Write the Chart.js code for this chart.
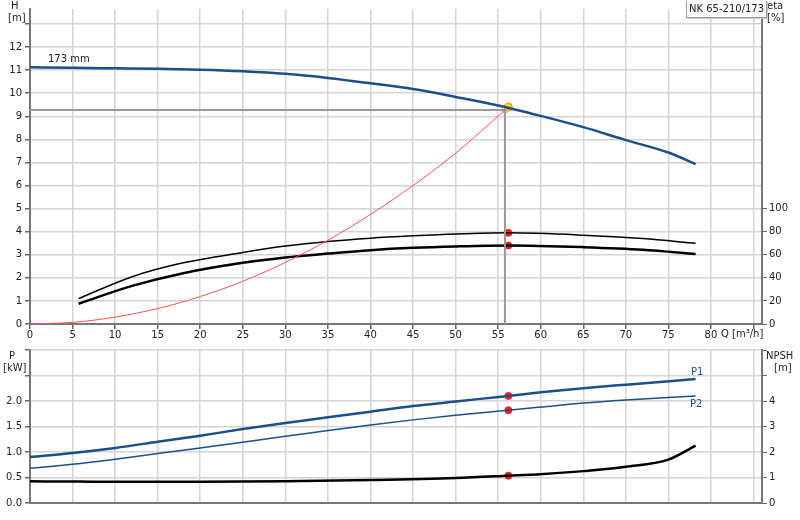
<!DOCTYPE html>
<html><head><meta charset="utf-8">
<script src="https://cdn.jsdelivr.net/npm/chart.js@4"></script>
<style>
body{margin:0;background:#fff;font-family:"DejaVu Sans",sans-serif;}
#wrap{position:relative;width:800px;height:520px;}
canvas{position:absolute;left:0;}
.t{position:absolute;font-size:10px;color:#222;line-height:12px;white-space:nowrap;}
</style></head><body>
<div id="wrap">
<canvas id="top" width="800" height="340" style="top:0"></canvas>
<canvas id="bot" width="800" height="180" style="top:340px"></canvas>
<div class="t" style="left:11px;top:0">H</div>
<div class="t" style="left:8px;top:12px">[m]</div>
<div class="t" style="left:767px;top:0">eta</div>
<div class="t" style="left:767px;top:12px">[%]</div>
<div class="t" style="left:48px;top:53px">173 mm</div>
<div class="t" style="left:686px;top:1px;border:1px solid #999;border-top:none;padding:2px 2px;background:#fff;box-shadow:1px 1px 0 #ccc">NK 65-210/173</div>
<div class="t" style="left:721px;top:328px">Q [m³/h]</div>
<div class="t" style="left:9px;top:350px">P</div>
<div class="t" style="left:3px;top:362px">[kW]</div>
<div class="t" style="left:766px;top:350px">NPSH</div>
<div class="t" style="left:774px;top:362px">[m]</div>
<div class="t" style="left:691px;top:366px;color:#1a4f8a">P1</div>
<div class="t" style="left:690px;top:398px;color:#1a4f8a">P2</div>
</div>
<script>
const qH=[0,5,10,15,20,25,30,35,40,45,50,55,60,65,70,75,78.2];
const H=[11.13,11.1,11.08,11.06,11.02,10.95,10.84,10.66,10.43,10.18,9.84,9.47,9.02,8.53,7.97,7.43,6.93];
const qEta=[5.7,12,18,25,30,35,40,45,50,56.2,65,72,78.2];
const eta1=[22,41,53,62,67.6,71.6,74.4,76.4,78,79,77,74,70];
const eta2=[17.6,33,44,53,57.6,61,64,66,67.2,68,66.6,64.4,60.6];
const qSys=[0,5,10,15,20,25,30,35,40,45,50,55.8];
const Hsys=[0,0.07,0.3,0.67,1.19,1.85,2.67,3.63,4.75,6.0,7.4,9.27];
const qP=[0,5,10,15,20,25,30,35,40,45,50,56.2,60,65,70,78.2];
const P1=[0.9,0.98,1.08,1.2,1.32,1.45,1.57,1.68,1.79,1.9,1.99,2.1,2.17,2.25,2.32,2.43];
const P2=[0.68,0.76,0.86,0.97,1.08,1.19,1.31,1.42,1.53,1.63,1.72,1.82,1.88,1.96,2.02,2.1];
const qN=[0,5.7,10,20,30,40,50,56.2,60,65,70,75,78.2];
const NPSH=[0.85,0.84,0.83,0.83,0.85,0.9,0.98,1.07,1.13,1.25,1.42,1.7,2.25];
const duty={q:56.2,H:9.4,eta1:79,eta2:68,P1:2.1,P2:1.82,N:1.07,qs:55.8,Hs:9.27};

const xy=(xs,ys)=>xs.map((x,i)=>({x,y:ys[i]}));
const F={family:'DejaVu Sans',size:10};
const grid={color:'#d4d4d4',lineWidth:1.5,tickLength:5,tickColor:'#666'};
const border={color:'#777',width:2};
const line=(data,color,w,axis)=>({data,borderColor:color,borderWidth:w,pointRadius:0,tension:0.4,cubicInterpolationMode:'monotone',yAxisID:axis,fill:false});
const pt=(x,y,axis,bg,bc,r)=>({data:[{x,y}],showLine:false,pointRadius:r,pointBackgroundColor:bg,pointBorderColor:bc,pointBorderWidth:1,yAxisID:axis});
Chart.defaults.animation=false;

new Chart(document.getElementById('top'),{type:'scatter',
data:{datasets:[
 {data:[{x:0,y:duty.Hs},{x:duty.qs,y:duty.Hs},{x:duty.qs,y:0}],borderColor:'#999',borderWidth:2,pointRadius:0,showLine:true,yAxisID:'y',tension:0},
 line(xy(qSys,Hsys),'#ff5050',1,'y'),
 line(xy(qH,H),'#1a4f8a',2.5,'y'),
 line(xy(qEta,eta1),'#000',1.5,'e'),
 line(xy(qEta,eta2),'#000',2.5,'e'),
 pt(duty.qs,duty.Hs,'y','rgba(0,0,0,0)','#e88',3),
 pt(duty.q,duty.H,'y','#ffe000','#f08000',4),
 pt(duty.q,duty.eta1,'e','#ff1a1a','#ff1a1a',3.5),
 pt(duty.q,duty.eta2,'e','#ff1a1a','#ff1a1a',3.5)
].map(d=>Object.assign({showLine:true},d))},
options:{responsive:false,layout:{padding:0},plugins:{legend:{display:false},tooltip:{enabled:false}},
scales:{
 x:{type:'linear',min:0,max:86,afterFit:s=>{s.height=16},afterBuildTicks:s=>{s.ticks=[0,5,10,15,20,25,30,35,40,45,50,55,60,65,70,75,80,85].map(v=>({value:v}))},
   ticks:{font:F,color:'#222',padding:0,maxRotation:0,callback:v=>v<=80?v:''},grid,border},
 y:{position:'left',min:0,max:13.65,afterFit:s=>{s.width=30},afterBuildTicks:s=>{s.ticks=[...Array(14).keys()].map(v=>({value:v}))},
   ticks:{font:F,color:'#222',padding:3,callback:v=>v<=12?v:''},grid,border},
 e:{position:'right',min:0,max:273,afterFit:s=>{s.width=38},afterBuildTicks:s=>{s.ticks=[0,20,40,60,80,100].map(v=>({value:v}))},
   ticks:{font:F,color:'#222',padding:2},grid:{drawOnChartArea:false,tickLength:5,tickColor:'#666'},border}
}}});

new Chart(document.getElementById('bot'),{type:'scatter',
data:{datasets:[
 line(xy(qP,P1),'#1a4f8a',2.5,'y'),
 line(xy(qP,P2),'#1a4f8a',1.5,'y'),
 line(xy(qN,NPSH),'#000',2.5,'n'),
 pt(duty.q,duty.P1,'y','#ff1a1a','#ff1a1a',3.5),
 pt(duty.q,duty.P2,'y','#ff1a1a','#ff1a1a',3.5),
 pt(duty.q,duty.N,'n','#ff1a1a','#ff1a1a',3.5)
].map(d=>Object.assign({showLine:true},d))},
options:{responsive:false,layout:{padding:{top:10}},plugins:{legend:{display:false},tooltip:{enabled:false}},
scales:{
 x:{type:'linear',min:0,max:86,afterFit:s=>{s.height=17},afterBuildTicks:s=>{s.ticks=[0,5,10,15,20,25,30,35,40,45,50,55,60,65,70,75,80,85].map(v=>({value:v}))},
   ticks:{display:false},grid:{color:'#d4d4d4',lineWidth:1.5,tickLength:0},border},
 y:{position:'left',min:0,max:3,afterFit:s=>{s.width=30},afterBuildTicks:s=>{s.ticks=[0,0.5,1,1.5,2,2.5,3].map(v=>({value:v}))},
   ticks:{font:F,color:'#222',padding:3,callback:v=>v<=2?v.toFixed(1):''},grid,border},
 n:{position:'right',min:0,max:6,afterFit:s=>{s.width=38},afterBuildTicks:s=>{s.ticks=[0,1,2,3,4,5,6].map(v=>({value:v}))},
   ticks:{font:F,color:'#222',padding:2,callback:v=>v<=4?v:''},grid:{drawOnChartArea:false,tickLength:5,tickColor:'#666'},border}
}}});
</script></body></html>
